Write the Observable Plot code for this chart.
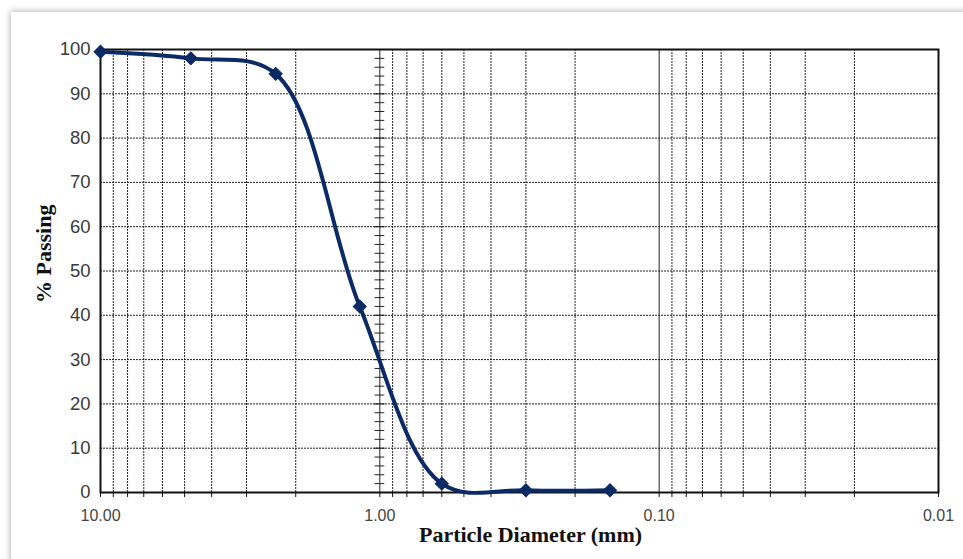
<!DOCTYPE html>
<html>
<head>
<meta charset="utf-8">
<script src="https://cdn.jsdelivr.net/npm/d3@7"></script>
<script src="https://cdn.jsdelivr.net/npm/@observablehq/plot@0.6"></script>
<style>
  html, body { margin: 0; padding: 0; background: #fff; }
  #wrap { position: relative; width: 963px; height: 559px; overflow: hidden; background: #fff; }
  #card { position: absolute; left: 11px; top: 12px; width: 960px; height: 570px; background: #fff;
          box-shadow: 0 0 6px 1px rgba(0,0,0,0.28); }
  #chart { position: absolute; left: 0; top: 0; }
  #chart svg { overflow: visible; }
</style>
</head>
<body>
<div id="wrap"><div id="card"></div><div id="chart"></div></div>
<script>
// Data
const particleSizes = [10, 4.75, 2.36, 1.18, 0.6, 0.3, 0.15];
const percentPassing = [99.5, 98, 94.5, 42, 2, 0.5, 0.5];

const xDecades = [10, 1, 0.1, 0.01];
const xDecadeLabels = ["10.00", "1.00", "0.10", "0.01"];
const yTicks = [0, 10, 20, 30, 40, 50, 60, 70, 80, 90, 100];
const yMinorTicksAtOne = [2,4,6,8,12,14,16,18,22,24,26,28,32,34,36,38,42,44,46,48,52,54,56,58,62,64,66,68,72,74,76,78,82,84,86,88,92,94,96,98];
const xMinorMultipliers = [2, 3, 4, 5, 6, 7, 8, 9];

const data = particleSizes.map((d, i) => ({size: d, pass: percentPassing[i]}));
const minorX = [];
for (const dec of [1, 0.1, 0.01]) for (const m of xMinorMultipliers) minorX.push(dec * m);
const allXTicks = xDecades.concat(minorX);

const navy = "#0b2a66";

const chart = Plot.plot({
  width: 963,
  height: 559,
  marginLeft: 100,
  marginRight: 25,
  marginTop: 49,
  marginBottom: 67,
  style: {fontFamily: "'Liberation Sans', Arial, sans-serif", background: "transparent"},
  x: {type: "log", domain: [10, 0.01], axis: null},
  y: {domain: [0, 100], axis: null},
  marks: [
    // horizontal dashed gridlines
    Plot.ruleY(yTicks.slice(1, -1), {stroke: "#222", strokeWidth: 1, strokeDasharray: "2,1"}),
    // vertical dashed minor gridlines
    Plot.ruleX(minorX, {stroke: "#222", strokeWidth: 1, strokeDasharray: "2,1"}),
    // solid decade lines
    Plot.ruleX([1, 0.1], {stroke: "#222", strokeWidth: 1}),
    // small cross ticks on the 1.00 line
    Plot.ruleY(yMinorTicksAtOne, {x1: 1.04, x2: 0.96, stroke: "#222", strokeWidth: 1}),
    Plot.ruleY(yTicks.slice(1, -1), {x1: 1.045, x2: 0.957, stroke: "#222", strokeWidth: 1.2}),
    // frame
    Plot.frame({stroke: "#111", strokeWidth: 2}),
    // x axis (tick marks at every gridline, labels at decades)
    Plot.axisX({
      ticks: allXTicks,
      tickSize: 5,
      tickPadding: 12,
      tickFormat: d => {
        const i = xDecades.findIndex(v => Math.abs(v - d) < 1e-9);
        return i >= 0 ? xDecadeLabels[i] : "";
      },
      fontSize: 16,
      fill: "#444",
      stroke: "#111",
      label: null
    }),
    // y axis labels
    Plot.axisY({
      ticks: yTicks,
      tickSize: 0,
      tickPadding: 10,
      fontSize: 18.5,
      fill: "#3a3a3a",
      label: null
    }),
    // curve and markers
    Plot.line(data, {x: "size", y: "pass", stroke: navy, strokeWidth: 4, curve: "catmull-rom"}),
    Plot.dot(data, {x: "size", y: "pass", symbol: "square", rotate: 45, r: 5.2, fill: navy, stroke: navy, strokeWidth: 1}),
    // axis titles
    Plot.text(["Particle Diameter (mm)"], {frameAnchor: "bottom", dy: 49, dx: 11, fontFamily: "'Liberation Serif', 'Times New Roman', serif", fontWeight: "bold", fontSize: 22, fill: "#111"}),
    Plot.text(["% Passing"], {frameAnchor: "left", dx: -57, dy: 32, rotate: -90, fontFamily: "'Liberation Serif', 'Times New Roman', serif", fontWeight: "bold", fontSize: 22, fill: "#111"})
  ]
});
document.getElementById("chart").appendChild(chart);
</script>
</body>
</html>
